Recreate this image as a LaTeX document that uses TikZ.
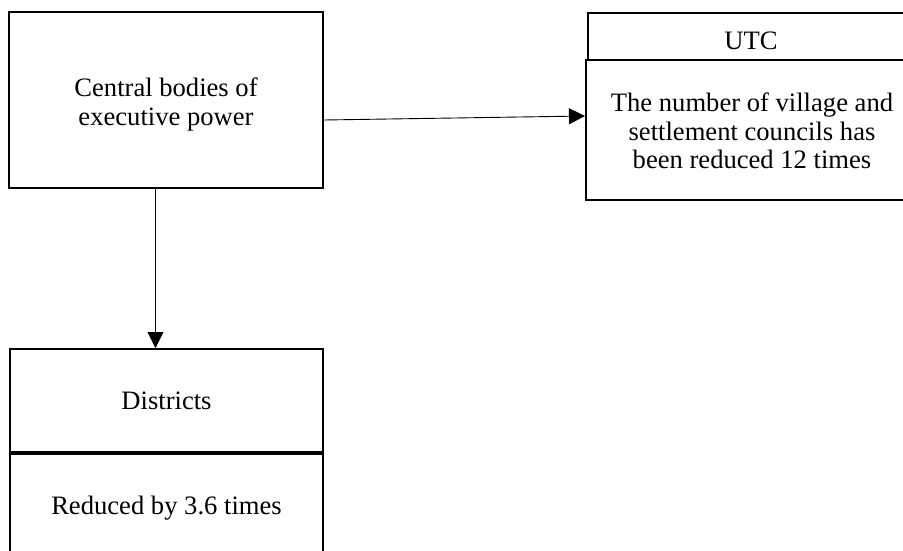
\documentclass[tikz,border=0pt]{standalone}
\usepackage{fontspec}
\setmainfont{Liberation Serif}
\usetikzlibrary{arrows.meta}
\begin{document}
\begin{tikzpicture}[x=1pt,y=-1pt,
  boxx/.style={draw,line width=2pt,inner sep=0pt},
  txt/.style={inner sep=0pt,align=center,font=\fontsize{26.6}{28.3}\selectfont},
  conn/.style={line width=0.9pt,-{Triangle[length=16pt,width=16pt]}}]
\useasboundingbox (0,0) rectangle (903,551);
\clip (0,0) rectangle (903,551);
\node[boxx,minimum width=314pt,minimum height=176pt] (cb) at (166,100) {};
\node[txt] (cbt) at (166,104.6) {Central bodies of\\executive power};
\node[boxx,minimum width=330pt,minimum height=47.3pt] (utch) at (753,36.3) {};
\node[txt] (utcht) at (751,41.2) {UTC};
\node[boxx,minimum width=332pt,minimum height=140pt] (utcb) at (752,130) {};
\node[txt] (utcbt) at (752,131) {The number of village and\\settlement councils has\\been reduced 12 times};
\node[boxx,minimum width=313pt,minimum height=103pt] (dh) at (166.5,400.5) {};
\node[txt] (dht) at (166.5,401) {Districts};
\node[boxx,minimum width=313pt,minimum height=110pt] (db) at (166.5,507) {};
\node[txt] (dbt) at (166.5,508) {Reduced by 3.6 times};
\draw[line width=3.5pt] (dh.south west) -- (dh.south east);
\coordinate (a1) at (cb.east |- 0,120);
\coordinate (a2) at (utcb.west |- 0,116);
\draw[conn] (a1) -- (a2);
\coordinate (b1) at (155.5,0 |- cb.south);
\draw[conn] (b1) -- (b1 |- dh.north);
\end{tikzpicture}
\end{document}
